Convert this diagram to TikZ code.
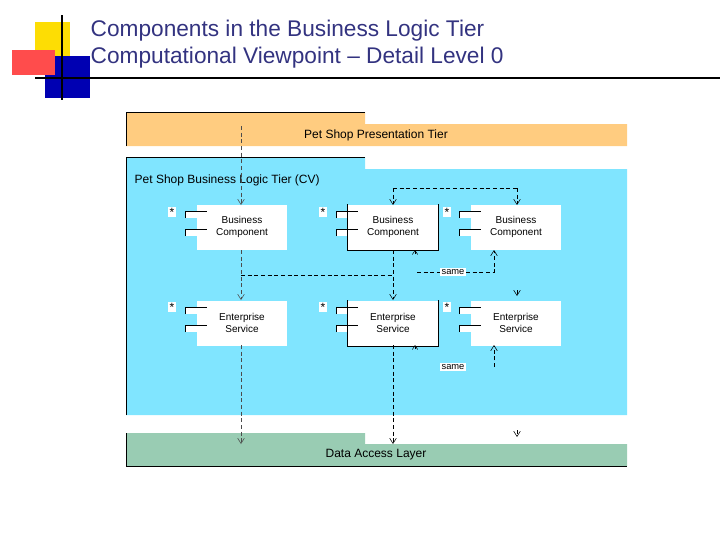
\documentclass[tikz,border=0pt]{standalone}
\usepackage{fontspec}
\setmainfont{Liberation Sans}
\usetikzlibrary{arrows.meta}
\definecolor{pres}{HTML}{FFCC80}
\definecolor{biz}{HTML}{80E5FF}
\definecolor{dal}{HTML}{99CCB3}
\definecolor{ttl}{HTML}{333380}
\begin{document}
\begin{tikzpicture}[x=0.75pt,y=-0.75pt,
  comp/.style={draw=none,fill=white,minimum width=67.5pt,minimum height=33.75pt,inner sep=0pt,font=\fontsize{7.5}{9}\selectfont,align=center},
  port/.style={fill=white},
  star/.style={fill=white,inner sep=1pt,font=\small},
  dep/.style={densely dashed,thin,-{Straight Barb[length=4pt,width=5pt]}},
  dl/.style={densely dashed,thin},
  lbl/.style={fill=white,inner sep=1pt,font=\fontsize{7}{8}\selectfont}]
\useasboundingbox (0,0) rectangle (720,540);
% title decoration
\fill[yellow!80!orange] (35,22) rectangle (70,58);
\fill[blue!70!black] (45,56) rectangle (90,98);
\fill[red!70] (12,50) rectangle (55,75);
\draw[thick] (62,15) -- (62,100);
\draw[thick] (35,78) -- (720,78);
\node[anchor=west,text=ttl,font=\fontsize{17}{20}\selectfont,align=left] (title) at (86,44) {Components in the Business Logic Tier\\Computational Viewpoint – Detail Level 0};
% tiers
\fill[pres] (126,112) -- (365,112) -- (365,124) -- (627,124) -- (627,146) -- (126,146) -- cycle;
\draw (126,146) -- (126,112) -- (365,112);
\node[font=\fontsize{9}{10}\selectfont] (pt) at (376,135) {Pet Shop Presentation Tier};
\fill[biz] (126,157) -- (365,157) -- (365,169) -- (627,169) -- (627,415) -- (126,415) -- cycle;
\draw (126,415) -- (126,157) -- (365,157);
\node[anchor=west,font=\fontsize{9}{10}\selectfont] (bt) at (130,180) {Pet Shop Business Logic Tier (CV)};
\fill[dal] (126,433) -- (365,433) -- (365,444) -- (627,444) -- (627,466) -- (126,466) -- cycle;
\draw (126,433) -- (126,466) -- (627,466);
\node[font=\fontsize{9}{10}\selectfont] (dt) at (376,455) {Data Access Layer};
% components
\foreach \n/\x/\y/\t in {b1/242/227/{Business\\Component},b2/393/227/{Business\\Component},b3/516/227/{Business\\Component},e1/242/323/{Enterprise\\Service},e2/393/323/{Enterprise\\Service},e3/516/323/{Enterprise\\Service}}{
  \node[comp] (\n) at (\x,\y) {\t};
  \fill[white] (\x-57,\y-16) rectangle (\x-35,\y-9);
  \fill[white] (\x-57,\y+2) rectangle (\x-35,\y+9);
  \draw[thin] (\x-57,\y-9) -- (\x-57,\y-16) -- (\x-35,\y-16);
  \draw[thin] (\x-57,\y+9) -- (\x-57,\y+2) -- (\x-35,\y+2);
}
\draw (b2.north west) -- (b2.south west) -- (b2.south east) -- (b2.north east);
\draw (e2.north west) -- (e2.south west) -- (e2.south east) -- (e2.north east);
\foreach \n/\x/\y in {s1/172/212,s2/323/212,s3/447/212,s4/172/307,s5/323/307,s6/447/307}
  \node[star] (\n) at (\x,\y) {*};
% connectors
\coordinate (p1) at (241,126);
\draw[dep,gray!60!black] (p1) -- (241,205);
\draw[dep,gray!60!black] (241,250) -- (241,300);
\draw[dl] (241,275) -- (393,275);
\draw[dep] (393,250) -- (393,300);
\draw[dl] (393,188) -- (517,188);
\draw[dep] (393,188) -- (393,205);
\draw[dep] (517,188) -- (517,205);
\draw[dep,gray!60!black] (241,345) -- (241,444);
\draw[dep] (393,345) -- (393,444);
\node[lbl] (same1) at (453,272) {same};
\node[lbl] (same2) at (453,367) {same};
\draw[dl] (417,272) -- (same1.west);
\draw[dep] (same1.east) -- (494,272) -- (494,250);
\draw[dep] (494,367) -- (494,345);
\draw[-{Straight Barb[length=3pt,width=4pt]},thin] (415,254) -- (415,250);
\draw[-{Straight Barb[length=3pt,width=4pt]},thin] (415,349) -- (415,345);
\coordinate (m1) at (517,290); \coordinate (m2) at (517,430);
\draw[dep] (m1) -- ++(0,6);
\draw[dep] (m2) -- ++(0,7);
\end{tikzpicture}
\end{document}
